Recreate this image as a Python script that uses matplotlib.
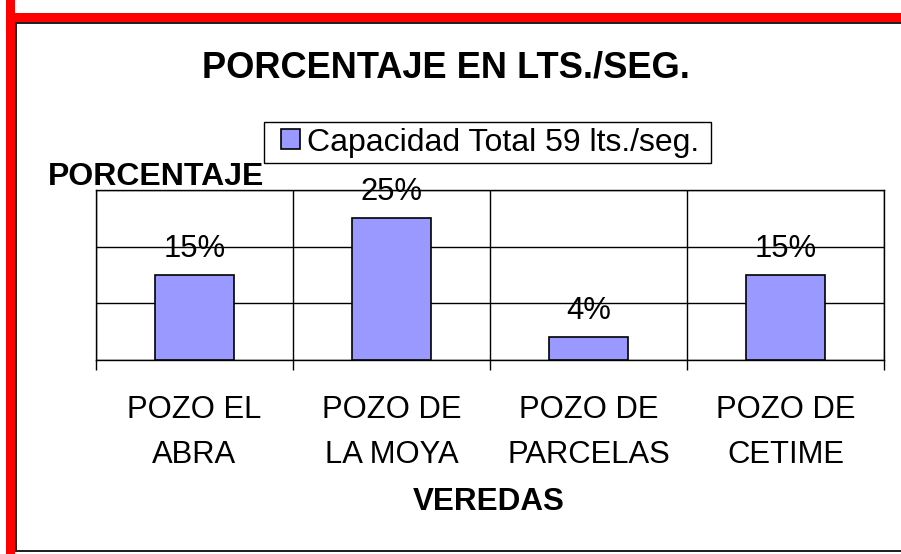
import matplotlib
matplotlib.use("Agg")
import matplotlib.pyplot as plt
from matplotlib.patches import Rectangle, Patch
from matplotlib.transforms import blended_transform_factory

# ---- data ----
categories = ["POZO EL\nABRA", "POZO DE\nLA MOYA", "POZO DE\nPARCELAS", "POZO DE\nCETIME"]
values = [15, 25, 4, 15]
series_name = "Capacidad Total 59 lts./seg."
title = "PORCENTAJE EN LTS./SEG."
ylabel = "PORCENTAJE"
xlabel = "VEREDAS"

W, H = 901, 554
plt.rcParams['font.family'] = ['Liberation Sans', 'DejaVu Sans']
FS = 22.3
fig = plt.figure(figsize=(W / 100, H / 100), dpi=100)

def fx(px):
    return px / W

def fy(py):
    return (H - py) / H

# decorative frame (red left/top, dark inner line)
fig.patches.append(Rectangle((fx(6), fy(554)), fx(9), 554 / H, transform=fig.transFigure,
                             facecolor='#FF0000', edgecolor='none'))
fig.patches.append(Rectangle((fx(6), fy(22)), 1, 9 / H, transform=fig.transFigure,
                             facecolor='#FF0000', edgecolor='none'))
fig.patches.append(Rectangle((fx(15), fy(552)), fx(2), 530 / H, transform=fig.transFigure,
                             facecolor='#222222', edgecolor='none'))
fig.patches.append(Rectangle((fx(15), fy(24)), 1, 2 / H, transform=fig.transFigure,
                             facecolor='#222222', edgecolor='none'))
fig.patches.append(Rectangle((fx(15), fy(552)), 1, 2 / H, transform=fig.transFigure,
                             facecolor='#222222', edgecolor='none'))

# plot area
ax = fig.add_axes([fx(96), fy(360), fx(884) - fx(96), (360 - 190) / H])
x = list(range(len(categories)))
bars = ax.bar(x, values, width=0.405, color='#9999FF', edgecolor='black', linewidth=1.2,
              label=series_name, zorder=3)
ax.set_xlim(-0.5, len(categories) - 0.5)
ax.set_ylim(0, 30)
ax.set_yticks([0, 10, 20, 30])
ax.set_yticklabels([])
ax.tick_params(axis='y', length=0)
ax.grid(axis='y', color='black', linewidth=1.0, zorder=0)
ax.set_xticks([i - 0.5 for i in range(len(categories) + 1)])
ax.set_xticklabels([])
ax.tick_params(axis='x', direction='out', length=7.2, width=1.0, color='black')
ax.grid(axis='x', color='black', linewidth=1.0, zorder=0)
for s in ax.spines.values():
    s.set_linewidth(1.0)
    s.set_color('black')

# value labels
for xi, v in zip(x, values):
    ax.annotate(f"{v}%", (xi, v), xytext=(0, 13), textcoords='offset points',
                ha='center', va='baseline', fontsize=FS)

# category labels
tr = blended_transform_factory(ax.transData, fig.transFigure)
for xi, lab in zip(x, categories):
    l1, l2 = lab.split("\n")
    ax.text(xi, fy(418), l1, transform=tr, ha='center', va='baseline', fontsize=FS)
    ax.text(xi, fy(463), l2, transform=tr, ha='center', va='baseline', fontsize=FS)

fig.text(fx(446), fy(77), title, ha='center', va='baseline', fontsize=26.1, fontweight='bold')
fig.text(fx(48), fy(185), ylabel, ha='left', va='baseline', fontsize=23, fontweight='bold')
fig.text(fx(489), fy(510), xlabel, ha='center', va='baseline', fontsize=22.6, fontweight='bold')

# legend (frame drawn separately to match the box proportions)
fig.patches.append(Rectangle((fx(264), fy(163)), fx(711) - fx(264), (163 - 122) / H,
                             transform=fig.transFigure, facecolor='white',
                             edgecolor='black', linewidth=1.0, zorder=1))
leg = fig.legend(handles=[Patch(facecolor='#9999FF', edgecolor='black', linewidth=1.2, label=series_name)],
                 loc='center left', bbox_to_anchor=(fx(281), fy(142.5)),
                 fontsize=23, frameon=False,
                 handlelength=0.6, handleheight=0.6, handletextpad=0.2,
                 borderpad=0, borderaxespad=0)
leg.set_zorder(5)

fig.savefig("out.png", dpi=100)
